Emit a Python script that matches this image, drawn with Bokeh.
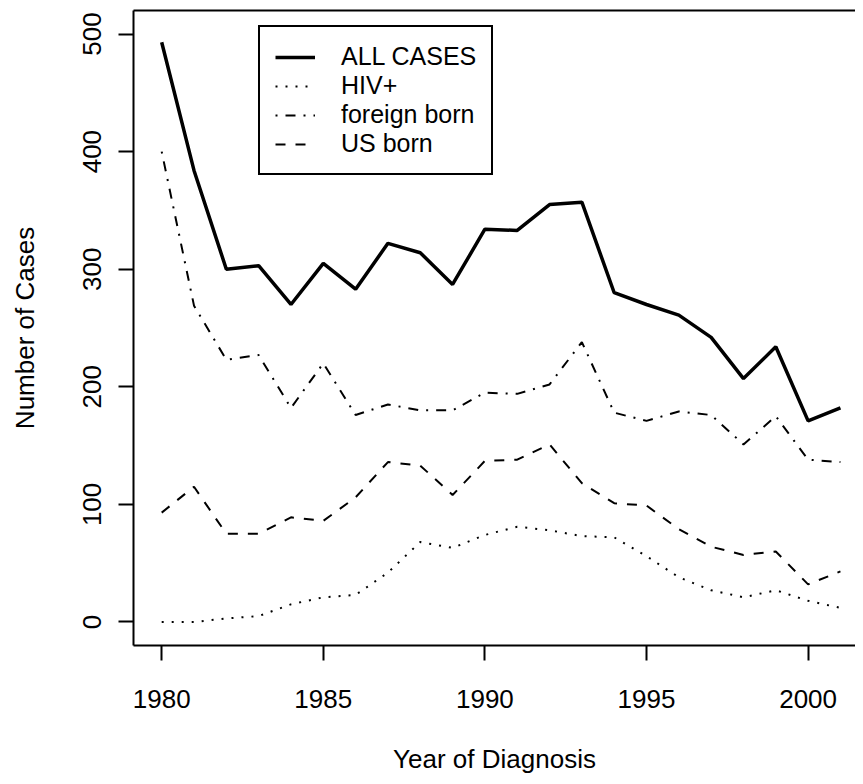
from bokeh.plotting import figure
from bokeh.models import (Range1d, FixedTicker, LinearAxis, Legend, LegendItem)
from bokeh.embed import file_html
from bokeh.resources import INLINE

years = list(range(1980, 2002))
all_cases = [493, 384, 300, 303, 270, 305, 283, 322, 314, 287, 334, 333, 355, 357, 280, 270, 261, 242, 207, 234, 171, 182]
hiv_pos = [0, 0, 3, 5, 15, 21, 23, 42, 68, 63, 74, 81, 78, 73, 72, 56, 38, 27, 21, 27, 18, 12]
foreign_born = [400, 269, 223, 227, 182, 220, 176, 185, 180, 180, 195, 194, 202, 238, 178, 171, 179, 176, 151, 175, 138, 136]
us_born = [93, 115, 75, 75, 89, 86, 106, 136, 133, 108, 137, 138, 151, 118, 101, 99, 79, 64, 57, 60, 32, 43]

x_ticks = [1980, 1985, 1990, 1995, 2000]
y_ticks = [0, 100, 200, 300, 400, 500]
series_names = ["ALL CASES", "HIV+", "foreign born", "US born"]

FONT = "Liberation Sans"
FS = "26px"

p = figure(width=855, height=776, output_backend="svg", toolbar_location=None,
           x_range=Range1d(1979.128, 2001.466), y_range=Range1d(-20, 520),
           min_border_left=133, min_border_right=0, min_border_top=10, min_border_bottom=124,
           x_axis_label="Year of Diagnosis", y_axis_label="Number of Cases")
p.outline_line_color = None
p.xgrid.visible = False
p.ygrid.visible = False
p.background_fill_color = "white"
p.border_fill_color = "white"

for ax in (p.xaxis[0], p.yaxis[0]):
    ax.axis_line_width = 2
    ax.axis_line_color = "black"
    ax.major_tick_line_width = 2
    ax.major_tick_line_color = "black"
    ax.major_tick_out = 15
    ax.major_tick_in = 0
    ax.minor_tick_out = 0
    ax.minor_tick_in = 0
    ax.major_label_text_font = FONT
    ax.major_label_text_font_size = FS
    ax.major_label_text_color = "black"
    ax.axis_label_text_font = FONT
    ax.axis_label_text_font_size = FS
    ax.axis_label_text_font_style = "normal"
    ax.axis_label_text_color = "black"

p.xaxis[0].ticker = FixedTicker(ticks=x_ticks)
p.yaxis[0].ticker = FixedTicker(ticks=y_ticks)
p.yaxis[0].major_label_orientation = "vertical"
p.xaxis[0].major_label_standoff = 29
p.xaxis[0].axis_label_standoff = 33
p.yaxis[0].major_label_standoff = 17
p.yaxis[0].axis_label_standoff = 41

top = LinearAxis(ticker=FixedTicker(ticks=[]), axis_line_width=2, axis_line_color="black",
                 major_tick_out=0, major_tick_in=0, minor_tick_out=0, minor_tick_in=0,
                 major_label_text_font_size="0px")
p.add_layout(top, "above")

r1 = p.line(years, all_cases, line_color="black", line_width=3.5)
r2 = p.line(years, hiv_pos, line_color="black", line_width=2, line_dash="2 8")
r3 = p.line(years, foreign_born, line_color="black", line_width=2, line_dash="2 8 10 8")
r4 = p.line(years, us_born, line_color="black", line_width=2, line_dash="10 10")

legend = Legend(items=[LegendItem(label=n, renderers=[r]) for n, r in zip(series_names, [r1, r2, r3, r4])],
                location=(125, 470), padding=15, spacing=0, margin=0,
                glyph_width=40, glyph_height=28, label_height=28, label_standoff=26,
                label_text_font=FONT, label_text_font_size="25px", label_text_color="black",
                border_line_color="black", border_line_width=2, border_line_alpha=1,
                background_fill_alpha=1)
p.add_layout(legend, "center")

open("out.html", "w").write(file_html(p, INLINE))
